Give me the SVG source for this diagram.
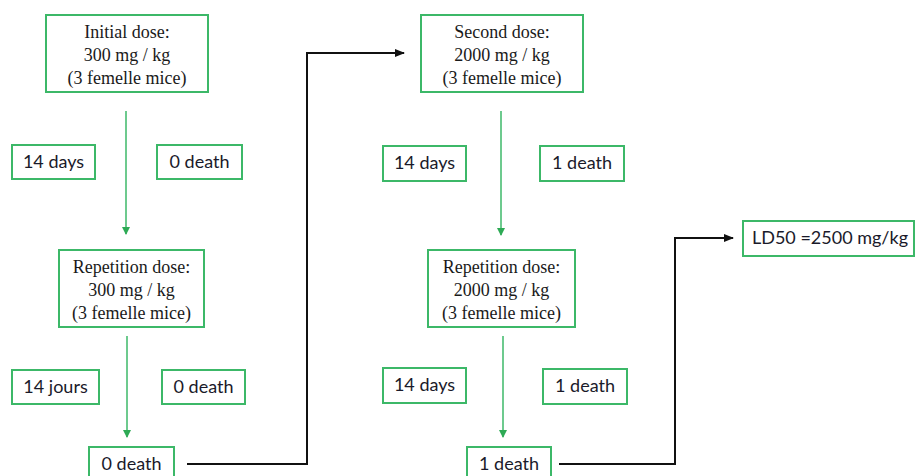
<svg xmlns="http://www.w3.org/2000/svg" width="915" height="476" viewBox="0 0 915 476">
<style>
.box{fill:#fff;stroke:#3cb868;stroke-width:2}
.ser{font-family:"Liberation Serif","Times New Roman",serif;font-size:18px;fill:#1a1a1a;text-anchor:middle}
.san{font-family:Lato,"Open Sans",sans-serif;font-size:18px;fill:#1a1a2a;text-anchor:middle}
.g{stroke:#3cb868;stroke-width:1.5;fill:none}
.k{stroke:#111;stroke-width:2;fill:none}
</style>
<defs>
<marker id="ag" markerWidth="8" markerHeight="8" refX="7" refY="4" orient="auto" markerUnits="userSpaceOnUse">
<path d="M0,0 L8,4 L0,8 Z" fill="#2eaa55"/>
</marker>
<marker id="ak" markerWidth="10" markerHeight="8" refX="9" refY="4" orient="auto" markerUnits="userSpaceOnUse">
<path d="M0,0 L10,4 L0,8 Z" fill="#111"/>
</marker>
</defs>
<rect width="915" height="476" fill="#fff"/>
<g id="connectors">
<line class="g" x1="126" y1="111" x2="126" y2="234" marker-end="url(#ag)"/>
<line class="g" x1="127" y1="336" x2="127" y2="437" marker-end="url(#ag)"/>
<line class="g" x1="501" y1="111" x2="501" y2="235" marker-end="url(#ag)"/>
<line class="g" x1="503" y1="336" x2="503" y2="437" marker-end="url(#ag)"/>
<polyline class="k" points="187,464 307,464 307,53 404,53" marker-end="url(#ak)"/>
<polyline class="k" points="559,464 675,464 675,238 733,238" marker-end="url(#ak)"/>
</g>
<g id="initial">
<rect class="box" x="46" y="15" width="162" height="77"/>
<text class="ser" x="127" y="38">Initial dose:</text>
<text class="ser" x="127" y="61">300 mg / kg</text>
<text class="ser" x="127" y="84">(3 femelle mice)</text>
</g>
<g id="days1">
<rect class="box" x="12" y="145" width="83" height="34"/>
<text class="san" x="53.5" y="168">14 days</text>
</g>
<g id="death1">
<rect class="box" x="157" y="145" width="85" height="34"/>
<text class="san" x="199.5" y="168">0 death</text>
</g>
<g id="rep1">
<rect class="box" x="59" y="250" width="145" height="77"/>
<text class="ser" x="131.5" y="273">Repetition dose:</text>
<text class="ser" x="131.5" y="296">300 mg / kg</text>
<text class="ser" x="131.5" y="319">(3 femelle mice)</text>
</g>
<g id="jours">
<rect class="box" x="12" y="370" width="87" height="34"/>
<text class="san" x="55.5" y="393">14 jours</text>
</g>
<g id="death2">
<rect class="box" x="162" y="370" width="83" height="34"/>
<text class="san" x="203.5" y="393">0 death</text>
</g>
<g id="result1">
<rect class="box" x="89" y="447" width="85" height="36"/>
<text class="san" x="131.5" y="470">0 death</text>
</g>
<g id="second">
<rect class="box" x="421" y="15" width="162" height="77"/>
<text class="ser" x="502" y="38">Second dose:</text>
<text class="ser" x="502" y="61">2000 mg / kg</text>
<text class="ser" x="502" y="84">(3 femelle mice)</text>
</g>
<g id="days3">
<rect class="box" x="383" y="146" width="83" height="35"/>
<text class="san" x="424.5" y="169">14 days</text>
</g>
<g id="death3">
<rect class="box" x="540" y="146" width="84" height="35"/>
<text class="san" x="582" y="169">1 death</text>
</g>
<g id="rep2">
<rect class="box" x="428" y="250" width="147" height="77"/>
<text class="ser" x="501.5" y="273">Repetition dose:</text>
<text class="ser" x="501.5" y="296">2000 mg / kg</text>
<text class="ser" x="501.5" y="319">(3 femelle mice)</text>
</g>
<g id="days4">
<rect class="box" x="383" y="368" width="83" height="35"/>
<text class="san" x="424.5" y="391">14 days</text>
</g>
<g id="death4">
<rect class="box" x="543" y="369" width="84" height="35"/>
<text class="san" x="585" y="392">1 death</text>
</g>
<g id="result2">
<rect class="box" x="467" y="447" width="84" height="36"/>
<text class="san" x="509" y="470">1 death</text>
</g>
<g id="ld50">
<rect class="box" x="743" y="221" width="171" height="35"/>
<text class="san" x="830" y="244">LD50 =2500 mg/kg</text>
</g>
</svg>
